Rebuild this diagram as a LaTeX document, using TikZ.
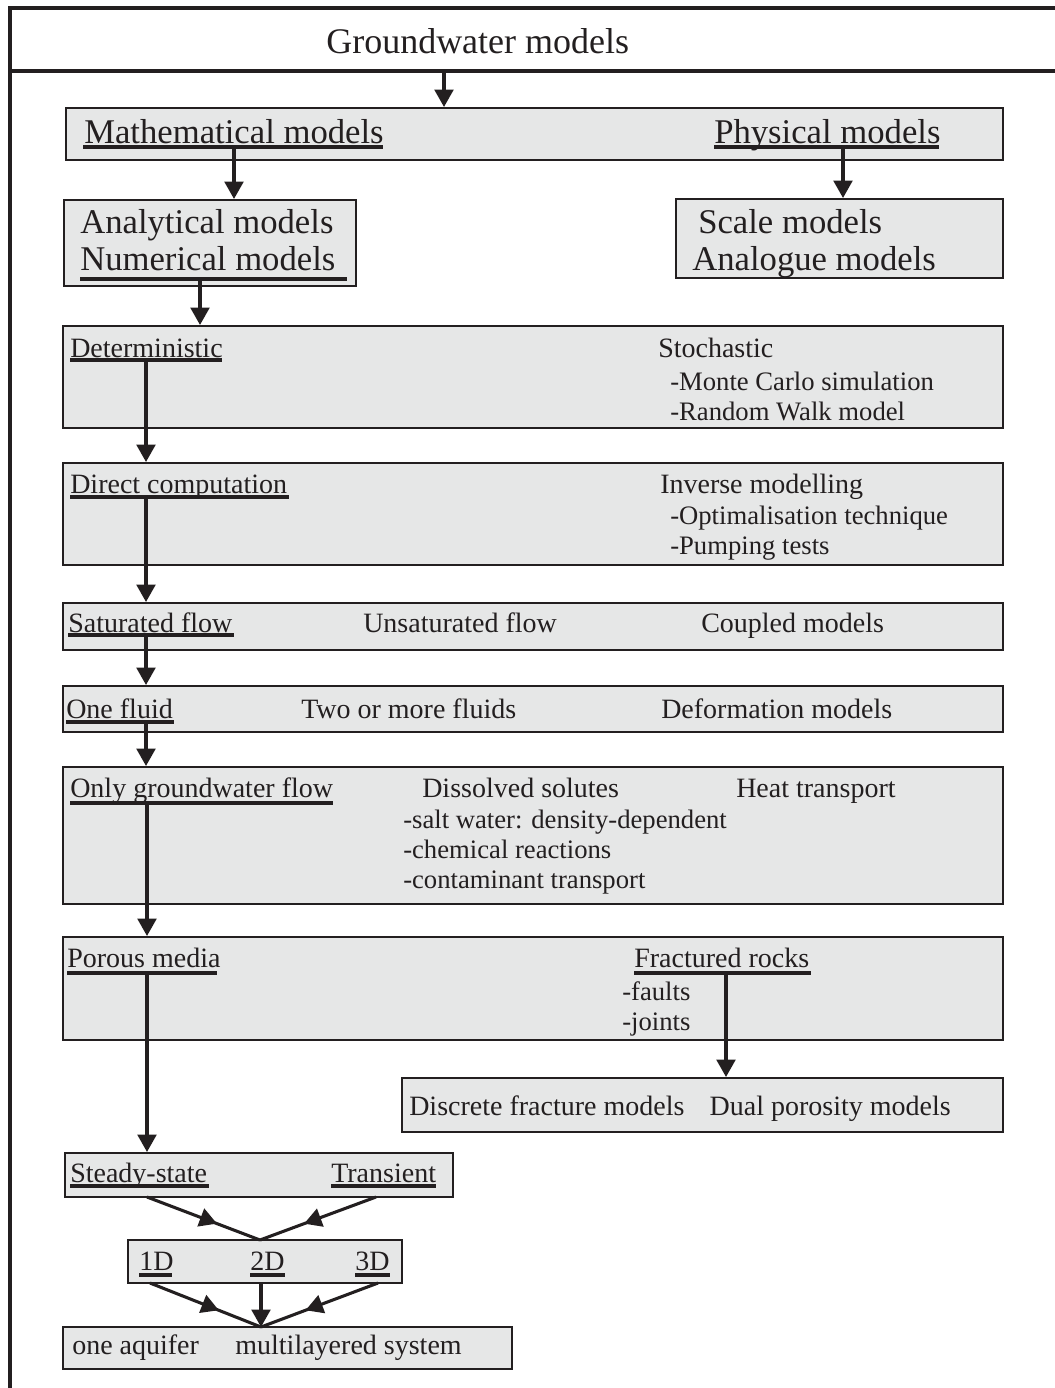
\documentclass[tikz,border=0pt]{standalone}
\usepackage{fontspec}
\setmainfont{Liberation Serif}
\usetikzlibrary{arrows.meta,fit,decorations.markings}

\definecolor{ink}{HTML}{231F20}
\definecolor{panel}{HTML}{E6E7E7}

\begin{document}
\begin{tikzpicture}[x=0.75pt,y=-0.75pt,
  box/.style={draw=ink, fill=panel, line width=1.5pt, inner sep=0pt},
  txt/.style={anchor=base west, inner sep=0pt, text=ink, font=\fontsize{21}{25}\selectfont},
  item/.style={txt, font=\fontsize{20}{24}\selectfont},
  big/.style={txt, font=\fontsize{26}{31}\selectfont},
  uline/.style={draw=ink, line width=2.4pt},
  flow/.style={draw=ink, line width=2.3pt, -{Triangle[length=13pt,width=14pt]}},
  midflow/.style={draw=ink, line width=2.3pt, postaction={decorate},
    decoration={markings, mark=at position 0.62 with {\arrow{Triangle[length=13pt,width=14pt]}}}},
]
\useasboundingbox (0,0) rectangle (1055,1388);

% outer frame and title band
\draw[ink, line width=2.6pt] (1056,8) -- (10,8) -- (10,1389);
\draw[ink, line width=2.6pt] (10,71) -- (1056,71);
\node[txt, font=\fontsize{27}{32}\selectfont] (title) at (326,54) {Groundwater models};
\coordinate (titlefoot) at (444,71);

% boxes
\node[box, fit={(66,108) (1003,160)}] (b1) {};
\node[box, fit={(64,200) (356,286)}] (b2) {};
\node[box, fit={(676,199) (1003,278)}] (b3) {};
\node[box, fit={(63,326) (1003,428)}] (b4) {};
\node[box, fit={(63,463) (1003,565)}] (b5) {};
\node[box, fit={(63,603) (1003,650)}] (b6) {};
\node[box, fit={(63,686) (1003,732)}] (b7) {};
\node[box, fit={(63,767) (1003,904)}] (b8) {};
\node[box, fit={(63,937) (1003,1040)}] (b9) {};
\node[box, fit={(402,1078) (1003,1132)}] (b10) {};
\node[box, fit={(65,1153) (453,1197)}] (b11) {};
\node[box, fit={(128,1240) (402,1283)}] (b12) {};
\node[box, fit={(63,1327) (512,1369)}] (b13) {};

% texts
\node[big] (math) at (84,143) {Mathematical models};
\node[big] (phys) at (714,143) {Physical models};
\draw[uline] (83,147) -- (383,147);
\draw[uline] (714,147) -- (939,147);

\node[big] (ana) at (80,233) {Analytical models};
\node[big] (num) at (80,270) {Numerical models};
\draw[uline] (80,279) -- (347,279);
\node[big] (scale) at (698,233) {Scale models};
\node[big] (analog) at (692,270) {Analogue models};

\node[txt] (det) at (70,357) {Deterministic};
\draw[uline] (70,360) -- (222,360);
\node[txt] (sto) at (658,357) {Stochastic};
\node[item] (mc) at (670,390) {-Monte Carlo simulation};
\node[item] (rw) at (670,420) {-Random Walk model};

\node[txt] (dir) at (70,493) {Direct computation};
\draw[uline] (70,497) -- (289,497);
\node[txt] (inv) at (660,493) {Inverse modelling};
\node[item] (opt) at (670,524) {-Optimalisation technique};
\node[item] (pump) at (670,554) {-Pumping tests};

\node[txt] (sat) at (68,632) {Saturated flow};
\draw[uline] (68,635) -- (234,635);
\node[txt] (unsat) at (363,632) {Unsaturated flow};
\node[txt] (coup) at (701,632) {Coupled models};

\node[txt] (one) at (66,718) {One fluid};
\draw[uline] (66,722) -- (174,722);
\node[txt] (two) at (301,718) {Two or more fluids};
\node[txt] (defo) at (661,718) {Deformation models};

\node[txt] (gw) at (70,797) {Only groundwater flow};
\draw[uline] (70,803) -- (333,803);
\node[txt] (diss) at (422,797) {Dissolved solutes};
\node[txt] (heat) at (736,797) {Heat transport};
\node[item] (salt) at (403,828) {-salt water: density-dependent};
\node[item] (chem) at (403,858) {-chemical reactions};
\node[item] (cont) at (403,888) {-contaminant transport};

\node[txt] (por) at (67,967) {Porous media};
\draw[uline] (67,973) -- (217,973);
\node[txt] (frac) at (634,967) {Fractured rocks};
\draw[uline] (634,973) -- (811,973);
\node[item] (faults) at (622,1000) {-faults};
\node[item] (joints) at (622,1030) {-joints};

\node[txt] (dfm) at (409,1115) {Discrete fracture models\hspace{0.9em}Dual porosity models};

\node[txt] (steady) at (70,1182) {Steady-state};
\draw[uline] (70,1186) -- (209,1186);
\node[txt] (trans) at (331,1182) {Transient};
\draw[uline] (331,1186) -- (436,1186);

\node[txt] (d1) at (139,1270) {1D};
\node[txt] (d2) at (250,1270) {2D};
\node[txt] (d3) at (355,1270) {3D};
\draw[uline] (139,1275) -- (172,1275);
\draw[uline] (250,1275) -- (285,1275);
\draw[uline] (355,1275) -- (390,1275);

\node[txt] (aq) at (72,1354) {one aquifer\hspace{1.3em}multilayered system};

% connector anchors
\coordinate (cmath) at (234,147);
\coordinate (cphys) at (843,147);
\coordinate (cnum) at (200,279);
\coordinate (cdet) at (146,360);
\coordinate (cdir) at (146,497);
\coordinate (csat) at (146,635);
\coordinate (cone) at (146,722);
\coordinate (cgw) at (147,803);
\coordinate (cpor) at (147,973);
\coordinate (cfrac) at (726,973);
\coordinate (css) at (147,1197);
\coordinate (ctr) at (376,1197);
\coordinate (jA) at (260,1240);
\coordinate (c1d) at (150,1283);
\coordinate (c2d) at (261,1283);
\coordinate (c3d) at (378,1283);
\coordinate (jB) at (261,1327);

% connectors
\draw[flow] (titlefoot) -- (titlefoot |- b1.north);
\draw[flow] (cmath) -- (cmath |- b2.north);
\draw[flow] (cphys) -- (cphys |- b3.north);
\draw[flow] (cnum) -- (cnum |- b4.north);
\draw[flow] (cdet) -- (cdet |- b5.north);
\draw[flow] (cdir) -- (cdir |- b6.north);
\draw[flow] (csat) -- (csat |- b7.north);
\draw[flow] (cone) -- (cone |- b8.north);
\draw[flow] (cgw) -- (cgw |- b9.north);
\draw[flow] (cpor) -- (cpor |- b11.north);
\draw[flow] (cfrac) -- (cfrac |- b10.north);
\draw[midflow] (css) -- (jA);
\draw[midflow] (ctr) -- (jA);
\draw[midflow] (c1d) -- (jB);
\draw[flow] (c2d) -- (jB);
\draw[midflow] (c3d) -- (jB);
\end{tikzpicture}
\end{document}
